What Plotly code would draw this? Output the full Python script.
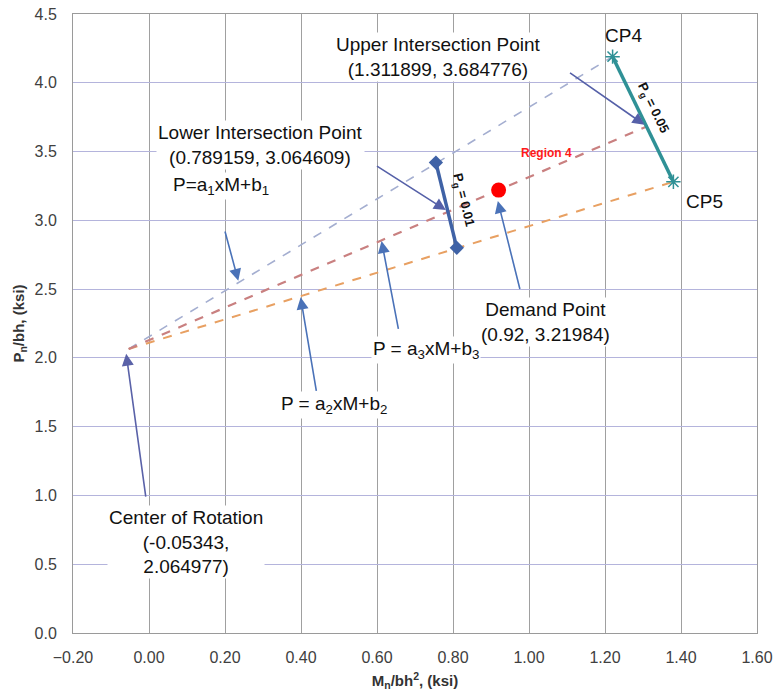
import plotly.graph_objects as go

# ---- data ----
center = (-0.05343, 2.064977)
cp4 = (1.22, 4.19)
cp5 = (1.38, 3.28)
upper_int = (1.311899, 3.684776)
lower_int = (0.789159, 3.064609)
demand = (0.92, 3.21984)
pg01_x = [0.755, 0.81]
pg01_y = [3.42, 2.80]
pg05_x = [cp4[0], cp5[0]]
pg05_y = [cp4[1], cp5[1]]

x_ticks = [-0.2, 0.0, 0.2, 0.4, 0.6, 0.8, 1.0, 1.2, 1.4, 1.6]
y_ticks = [0.0, 0.5, 1.0, 1.5, 2.0, 2.5, 3.0, 3.5, 4.0, 4.5]

FONT = "Liberation Sans, Arial, sans-serif"

fig = go.Figure()

# dashed rays from center of rotation
fig.add_trace(go.Scatter(x=[center[0], cp4[0]], y=[center[1], cp4[1]], mode="lines",
                         line=dict(color="#a4aed0", width=1.6, dash="dash"), hoverinfo="skip"))
fig.add_trace(go.Scatter(x=[center[0], cp5[0]], y=[center[1], cp5[1]], mode="lines",
                         line=dict(color="#e8a062", width=2, dash="dash"), hoverinfo="skip"))
fig.add_trace(go.Scatter(x=[center[0], upper_int[0]], y=[center[1], upper_int[1]], mode="lines",
                         line=dict(color="#c98080", width=2.2, dash="dash"), hoverinfo="skip"))

# Pg = 0.01 line
fig.add_trace(go.Scatter(x=pg01_x, y=pg01_y, mode="lines+markers",
                         line=dict(color="#3f62a6", width=3.5),
                         marker=dict(symbol="diamond", size=11, color="#3f62a6"), hoverinfo="skip"))
# Pg = 0.05 line
fig.add_trace(go.Scatter(x=pg05_x, y=pg05_y, mode="lines+markers",
                         line=dict(color="#2f9196", width=3.5),
                         marker=dict(symbol="asterisk", size=12, color="#2f9196",
                                     line=dict(color="#2f9196", width=1.5)), hoverinfo="skip"))
# Demand point
fig.add_trace(go.Scatter(x=[demand[0]], y=[demand[1]], mode="markers",
                         marker=dict(size=15, color="#ff0000"), hoverinfo="skip"))

ann = []
def arrow(hx, hy, tx, ty, color="#4a72b8"):
    ann.append(dict(x=hx, y=hy, ax=tx, ay=ty, xref="x", yref="y", axref="x", ayref="y",
                    showarrow=True, arrowhead=2, arrowsize=1.5, arrowwidth=1.6,
                    arrowcolor=color, text=""))

def label(x, y, text, size=19, color="#111111", bg=None, angle=0, bold=False):
    if bold:
        text = "<b>" + text + "</b>"
    d = dict(x=x, y=y, xref="x", yref="y", text=text, showarrow=False, textangle=angle,
             font=dict(family=FONT, size=size, color=color))
    if bg:
        d["bgcolor"] = bg
    ann.append(d)

arrow(upper_int[0] - 0.008, upper_int[1] + 0.01, 1.104, 4.079, "#5560a8")
arrow(lower_int[0] - 0.008, lower_int[1] + 0.01, 0.596, 3.401, "#5560a8")
arrow(0.235, 2.56, 0.199, 2.93, "#4a72b8")
arrow(0.918, 3.14, 0.977, 2.49, "#4a72b8")
arrow(0.612, 2.85, 0.657, 2.20, "#4a72b8")
arrow(0.399, 2.44, 0.441, 1.75, "#4a72b8")
arrow(-0.06, 2.03, -0.008, 0.98, "#5a62a8")

label(0.762, 4.19, "Upper Intersection Point<br>(1.311899, 3.684776)", bg="white")
label(1.248, 4.345, "CP4", size=19)
label(1.461, 3.14, "CP5", size=19)
label(0.294, 3.55, "Lower Intersection Point<br>(0.789159, 3.064609)", bg="white")
label(0.189, 3.25, "P=a<sub>1</sub>xM+b<sub>1</sub>", bg="white")
label(1.046, 3.49, "Region 4", size=12, color="#ff1a1a", bold=True)
label(0.826, 3.15, "P<sub>g</sub> = 0.01", size=13, angle=76, bold=True)
label(1.325, 3.82, "P<sub>g</sub> = 0.05", size=13, angle=64, bold=True)
label(1.043, 2.26, "Demand Point<br>(0.92, 3.21984)", bg="white")
label(0.728, 2.055, "P = a<sub>3</sub>xM+b<sub>3</sub>", bg="white")
label(0.486, 1.655, "P = a<sub>2</sub>xM+b<sub>2</sub>", bg="white")
label(0.097, 0.66, "Center of Rotation<br>(-0.05343,<br>2.064977)", bg="white")

fig.update_layout(
    width=777, height=696,
    margin=dict(l=73, r=20, t=14, b=63),
    paper_bgcolor="white", plot_bgcolor="white",
    showlegend=False,
    annotations=ann,
    font=dict(family=FONT, size=16, color="#404040"),
)
fig.update_xaxes(range=[-0.2, 1.6], tickvals=x_ticks, tickformat=".2f", automargin=False,
                 showgrid=True, gridcolor="#a0a0a0", gridwidth=1,
                 showline=True, linecolor="#9a9a9a", mirror=True, zeroline=False,
                 ticks="outside", ticklen=10, tickcolor="rgba(0,0,0,0)",
                 tickfont=dict(size=16, color="#404040"),
                 title=dict(text="<b>M<sub>n</sub>/bh<sup>2</sup>, (ksi)</b>",
                            font=dict(size=15, color="#333333"), standoff=10))
fig.update_yaxes(range=[0, 4.5], tickvals=y_ticks, tickformat=".1f", automargin=False,
                 showgrid=True, gridcolor="#b4b4dc", gridwidth=1.2,
                 showline=True, linecolor="#9a9a9a", mirror=True, zeroline=False,
                 ticks="outside", ticklen=12, tickcolor="rgba(0,0,0,0)",
                 tickfont=dict(size=16, color="#404040"),
                 title=dict(text="<b>P<sub>n</sub>/bh, (ksi)</b>",
                            font=dict(size=15, color="#333333"), standoff=6))

fig.write_html("out.html")
